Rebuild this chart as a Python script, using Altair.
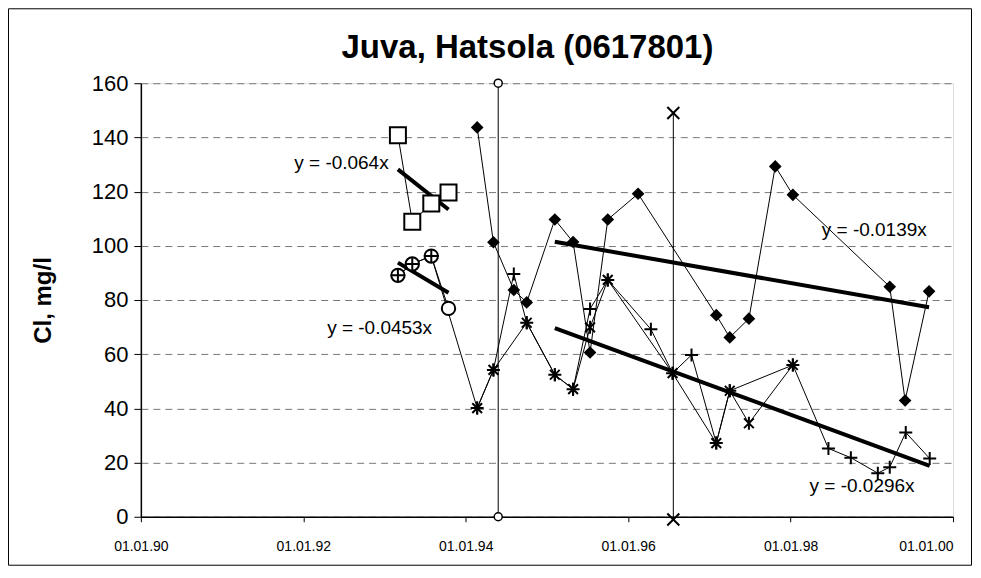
import altair as alt
import pandas as pd

# ---------------- data (decimal years, Cl mg/l) ----------------
square_dates = [1993.165, 1993.342, 1993.576, 1993.788]
square_cl = [140.8, 108.9, 115.6, 119.7]

circle_dates = [1993.165, 1993.342, 1993.576, 1993.788]
circle_cl = [89.1, 93.3, 96.2, 76.9]

diamond_dates = [1994.141, 1994.341, 1994.592, 1994.751, 1995.097, 1995.322, 1995.531,
                 1995.749, 1996.122, 1997.085, 1997.251, 1997.487, 1997.811, 1998.028,
                 1999.221, 1999.410, 1999.705]
diamond_cl = [143.7, 101.3, 83.7, 79.1, 109.7, 101.4, 60.6, 109.7, 119.2, 74.4, 66.2,
              73.1, 129.3, 118.8, 84.9, 42.9, 83.2]

star_dates = [1994.141, 1994.341, 1994.751, 1995.097, 1995.322, 1995.531, 1995.749,
              1996.547, 1997.085, 1997.251, 1997.487, 1998.028]
star_cl = [40.1, 54.2, 71.6, 52.4, 47.1, 69.9, 87.4, 53.0, 27.2, 46.5, 34.5, 56.0]

plus_dates = [1993.165, 1993.342, 1993.576, 1994.141, 1994.341, 1994.592, 1994.751,
              1995.097, 1995.322, 1995.531, 1995.749, 1996.280, 1996.547, 1996.780,
              1997.085, 1997.251, 1998.028, 1998.466, 1998.742, 1999.074, 1999.221,
              1999.418, 1999.713]
plus_cl = [89.1, 93.3, 96.2, 40.1, 54.2, 89.6, 71.6, 52.4, 47.1, 76.7, 87.4, 69.2, 53.0,
           59.7, 27.2, 46.5, 56.0, 25.2, 21.8, 16.1, 18.3, 31.1, 21.5]

# vertical marker lines
event1_dates = [1994.40, 1994.40]
event1_cl = [0, 160]
event2_dates = [1996.556, 1996.556]
event2_cl = [-1, 149]

# linear trend lines (end points)
trend_names = ["sq", "sq", "ci", "ci", "di", "di", "lo", "lo"]
trend_dates = [1993.165, 1993.788, 1993.165, 1993.788, 1995.097, 1999.705, 1995.097, 1999.713]
trend_cl = [128.2, 113.4, 93.8, 82.7, 101.5, 77.3, 69.6, 18.8]

# trend equation labels
label_texts = ["y = -0.064x", "y = -0.0453x", "y = -0.0139x", "y = -0.0296x"]
label_dates = [1992.47, 1992.94, 1999.03, 1998.88]
label_cl = [130.5, 69.7, 105.8, 11.2]

title_text = "Juva, Hatsola (0617801)"
y_title = "Cl, mg/l"
x_ticks = [1990, 1992, 1994, 1996, 1998, 2000]
y_ticks = [0, 20, 40, 60, 80, 100, 120, 140, 160]

FONT = "Liberation Sans"

# ---------------- build tables ----------------
def table(name, xs, ys):
    return pd.DataFrame({"series": name, "date": xs, "cl": ys})

lines_df = pd.concat([
    table("square", square_dates, square_cl),
    table("circle", circle_dates, circle_cl),
    table("diamond", diamond_dates, diamond_cl),
    table("star", star_dates, star_cl),
    table("plus", plus_dates, plus_cl),
    table("event1", event1_dates, event1_cl),
    table("event2", event2_dates, event2_cl),
], ignore_index=True)

trend_df = pd.DataFrame({"trend": trend_names, "date": trend_dates, "cl": trend_cl})
label_df = pd.DataFrame({"text": label_texts, "date": label_dates, "cl": label_cl})

x_enc = alt.X("date:Q",
              scale=alt.Scale(domain=[1990, 2000], nice=False, zero=False),
              axis=alt.Axis(values=x_ticks, title=None, grid=False,
                            labelExpr="'01.01.' + slice(toString(datum.value), 2)",
                            labelFlush=False,
                            labelAlign=alt.condition("datum.value == 2000",
                                                     alt.value("right"), alt.value("center")),
                            labelFont=FONT, labelFontSize=14, labelColor="black",
                            labelPadding=18, tickColor="black", tickSize=5,
                            domainColor="black", domainWidth=1.5))
y_enc = alt.Y("cl:Q",
              scale=alt.Scale(domain=[0, 160], nice=False),
              axis=alt.Axis(values=y_ticks, title=y_title, grid=True,
                            gridColor="#777777", gridDash=[7, 5], gridWidth=1,
                            labelFont=FONT, labelFontSize=22, labelColor="black",
                            labelPadding=6, tickColor="black", tickSize=7,
                            domainColor="black", domainWidth=1.5,
                            titleFont=FONT, titleFontSize=24, titleFontWeight="bold",
                            titleColor="black", titlePadding=36))

base_lines = alt.Chart(lines_df).mark_line(color="black", strokeWidth=1, clip=False).encode(
    x=x_enc, y=y_enc, detail="series:N", order="date:Q")

trend = alt.Chart(trend_df).mark_line(color="black", strokeWidth=4).encode(
    x="date:Q", y="cl:Q", detail="trend:N")

def pts(df_name, xs, ys, **mark):
    return alt.Chart(table(df_name, xs, ys)).mark_point(clip=False, **mark).encode(
        x="date:Q", y="cl:Q")

PLUS = "M-1,0L1,0M0,-1L0,1"
STAR = "M-0.75,-0.75L0.75,0.75M-0.75,0.75L0.75,-0.75M0,-1L0,1"
XMARK = "M-1,-1L1,1M-1,1L1,-1"

squares = pts("square", square_dates, square_cl, shape="square", size=256,
              filled=True, fill="white", stroke="black", strokeWidth=2, opacity=1)
circles = pts("circle", circle_dates, circle_cl, shape="circle", size=180,
              filled=True, fill="white", stroke="black", strokeWidth=2, opacity=1)
diamonds = pts("diamond", diamond_dates, diamond_cl, shape="diamond", size=160,
               filled=True, color="black", opacity=1)
stars = pts("star", star_dates, star_cl, shape=STAR, size=169, filled=False,
            stroke="black", strokeWidth=2, opacity=1)
pluses = pts("plus", plus_dates, plus_cl, shape=PLUS, size=169, filled=False,
             stroke="black", strokeWidth=2, opacity=1)
ev1 = pts("event1", event1_dates, event1_cl, shape="circle", size=64,
          filled=True, fill="white", stroke="black", strokeWidth=1.5, opacity=1)
ev2 = pts("event2", event2_dates, event2_cl, shape=XMARK, size=144, filled=False,
          stroke="black", strokeWidth=2, opacity=1)

labels = alt.Chart(label_df).mark_text(font=FONT, fontSize=19, color="black").encode(
    x="date:Q", y="cl:Q", text="text:N")

title = alt.Chart(pd.DataFrame({"t": [title_text]})).mark_text(
    font=FONT, fontSize=33, fontWeight="bold", color="black",
    align="center", baseline="middle").encode(
    x=alt.value(387), y=alt.value(-35), text="t:N")

frame = alt.Chart(pd.DataFrame({"a": [0]})).mark_rect(
    filled=False, stroke="black", strokeWidth=1, clip=False).encode(
    x=alt.value(-132.5), x2=alt.value(831.5), y=alt.value(-74.5), y2=alt.value(482.5))

chart = alt.layer(
    base_lines, trend, circles, squares, diamonds, stars, pluses, ev1, ev2, labels,
    title, frame
).properties(
    width=813, height=434,
    autosize=alt.AutoSizeParams(type="none"),
    padding={"left": 133, "top": 75, "right": 20, "bottom": 50},
).configure_view(stroke="#888888", strokeDash=[2, 2], strokeWidth=1
).configure(background="white")

chart.save("out.html", embed_options={"renderer": "svg", "actions": False})
